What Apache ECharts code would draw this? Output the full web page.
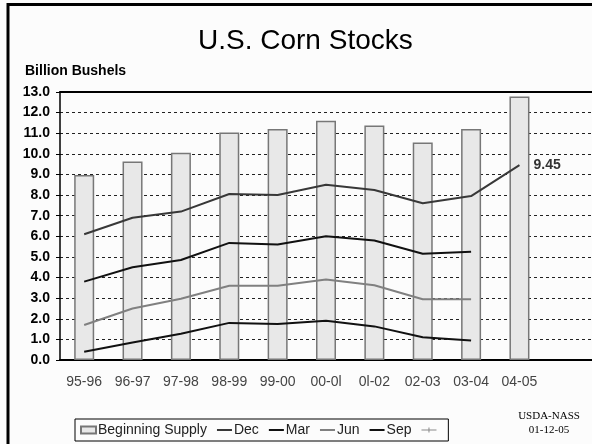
<!DOCTYPE html>
<html>
<head>
<meta charset="utf-8">
<script src="https://cdn.jsdelivr.net/npm/echarts@6/dist/echarts.min.js"></script>
<style>
    body { margin: 0; background: #fcfcfc; }
    #chart { width: 592px; height: 444px; }
</style>
</head>
<body>
<div id="chart"></div>
<script>
// dados
const seasons = ['95-96', '96-97', '97-98', '98-99', '99-00', '00-0l', '0l-02', '02-03', '03-04', '04-05', ''];
const beginningSupply = [8.97, 9.63, 10.05, 11.03, 11.2, 11.6, 11.37, 10.55, 11.2, 12.78, null];
const dec = [6.1, 6.9, 7.2, 8.05, 8.0, 8.5, 8.25, 7.6, 7.95, 9.45, null];
const mar = [3.8, 4.5, 4.85, 5.68, 5.6, 6.0, 5.8, 5.15, 5.25, null, null];
const jun = [1.7, 2.5, 2.97, 3.6, 3.6, 3.9, 3.63, 2.95, 2.95, null, null];
const sep = [0.4, 0.85, 1.27, 1.8, 1.75, 1.9, 1.63, 1.1, 0.95, null, null];
const yTicks = { min: 0, max: 13, interval: 1 };

const font = '"Liberation Sans", Arial, sans-serif';
// ícone de linha fina para a legenda (sem bolinha)
const lineIcon = 'path://M0,0L0,7L0,0Z M0,2.5h15v2h-15z';
const tickIcon = 'path://M0,0L0,7L0,0Z M0,3h15v1h-15z M7,1h1v5h-1z';

function lineSeries(name, data, color, width) {
    return {
        name: name,
        type: 'line',
        data: data,
        symbol: 'none',
        z: 3,
        lineStyle: { color: color, width: width },
        itemStyle: { color: color }
    };
}

function loadChart() {
    const chart = echarts.init(document.getElementById('chart'));

    const decSeries = lineSeries('Dec', dec, '#383838', 2);
    // rótulo do último valor de dezembro
    decSeries.endLabel = {
        show: true,
        distance: 14,
        fontFamily: font,
        fontSize: 14,
        fontWeight: 'bold',
        color: '#333',
        formatter: p => p.value.toFixed(2)
    };

    chart.setOption({
        backgroundColor: '#fcfcfc',
        animation: false,
        title: [{
            text: 'U.S. Corn Stocks',
            left: 193,
            top: 22,
            textStyle: { fontFamily: font, fontSize: 28, fontWeight: 'normal', color: '#000' }
        }, {
            text: 'Billion Bushels',
            left: 20,
            top: 59,
            textStyle: { fontFamily: font, fontSize: 14, fontWeight: 'bold', color: '#000' }
        }],
        legend: {
            left: 75,
            top: 419,
            padding: [4, 6, 4, 5],
            borderColor: '#000',
            borderWidth: 1,
            itemWidth: 15,
            itemHeight: 7,
            itemGap: 10,
            textStyle: { fontFamily: font, fontSize: 14, color: '#222', padding: [0, 0, 0, -3] },
            data: [
                { name: 'Beginning Supply', icon: 'rect' },
                { name: 'Dec', icon: lineIcon },
                { name: 'Mar', icon: lineIcon },
                { name: 'Jun', icon: lineIcon },
                { name: 'Sep', icon: lineIcon },
                { name: ' ', icon: tickIcon }
            ]
        },
        grid: { left: 60, right: -2, top: 92, bottom: 84 },
        xAxis: [{
            type: 'category',
            data: seasons,
            axisLine: { lineStyle: { color: '#000', width: 2 } },
            axisTick: { length: 5, lineStyle: { color: '#000' } },
            axisLabel: { fontFamily: font, fontSize: 14, color: '#444', margin: 15 }
        }, {
            type: 'category',
            data: seasons,
            position: 'top',
            axisLine: { lineStyle: { color: '#000', width: 2 } },
            axisTick: { show: false },
            axisLabel: { show: false }
        }],
        yAxis: {
            type: 'value',
            min: yTicks.min,
            max: yTicks.max,
            interval: yTicks.interval,
            axisLine: { show: true, lineStyle: { color: '#000', width: 1.5 } },
            axisTick: { show: true, length: 4, lineStyle: { color: '#000' } },
            axisLabel: {
                fontFamily: font, fontSize: 14, fontWeight: 'bold', color: '#000', margin: 10,
                formatter: v => v.toFixed(1)
            },
            splitLine: { lineStyle: { color: '#222', width: 1, type: [3, 3] } }
        },
        series: [{
            name: 'Beginning Supply',
            type: 'bar',
            data: beginningSupply,
            barWidth: 20,
            z: 2,
            itemStyle: { color: '#e8e8e8', borderColor: '#777', borderWidth: 1.5 }
        },
            decSeries,
            lineSeries('Mar', mar, '#111', 2),
            lineSeries('Jun', jun, '#808080', 2),
            lineSeries('Sep', sep, '#111', 2),
            {
                name: ' ',
                type: 'line',
                data: [],
                symbol: 'none',
                itemStyle: { color: '#888' },
                lineStyle: { color: '#888', width: 1 }
            }
        ],
        graphic: [
            { type: 'line', shape: { x1: 8, y1: 3, x2: 8, y2: 444 }, style: { stroke: '#000', lineWidth: 3 } },
            { type: 'line', shape: { x1: 7, y1: 4.5, x2: 592, y2: 4.5 }, style: { stroke: '#000', lineWidth: 3 } },
            {
                type: 'text',
                x: 549,
                y: 409,
                style: {
                    text: 'USDA-NASS\n01-12-05',
                    align: 'center',
                    font: '11px "Liberation Serif", serif',
                    lineHeight: 14,
                    fill: '#000'
                }
            }
        ]
    });

    window.addEventListener('resize', () => chart.resize());
}

document.addEventListener('DOMContentLoaded', () => {
    loadChart();
});
</script>
</body>
</html>
